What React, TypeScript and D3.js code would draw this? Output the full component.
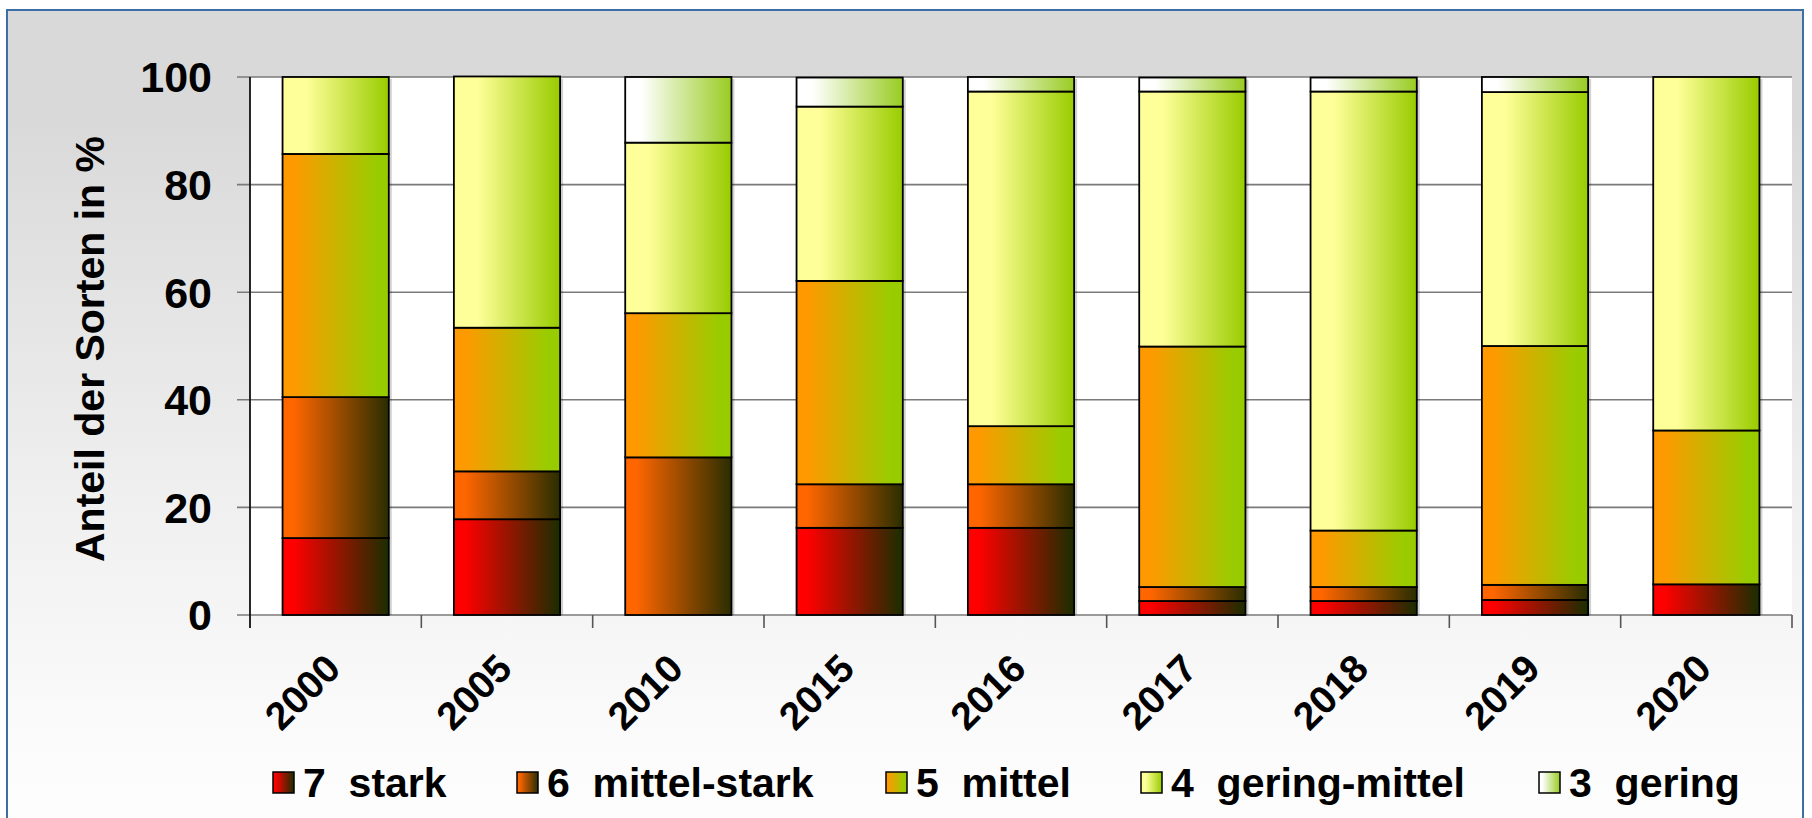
import React from 'react';
import * as d3 from 'd3';

const years = ['2000', '2005', '2010', '2015', '2016', '2017', '2018', '2019', '2020'];
const stark7 = [14.3, 17.8, 0, 16.2, 16.2, 2.6, 2.6, 2.8, 5.7];
const mittelStark6 = [26.2, 8.9, 29.3, 8.1, 8.1, 2.6, 2.6, 2.8, 0];
const mittel5 = [45.2, 26.7, 26.8, 37.8, 10.8, 44.7, 10.5, 44.4, 28.6];
const geringMittel4 = [14.3, 46.7, 31.7, 32.4, 62.2, 47.4, 81.6, 47.2, 65.7];
const gering3 = [0, 0, 12.2, 5.4, 2.7, 2.6, 2.6, 2.8, 0];
const seriesNames = ['7  stark', '6  mittel-stark', '5  mittel', '4  gering-mittel', '3  gering'];
const yTicks = [0, 20, 40, 60, 80, 100];

const seriesValues = [stark7, mittelStark6, mittel5, geringMittel4, gering3];
const gradStops: [number, string][][] = [
  [[0, '#ff0000'], [0.1, '#ff0000'], [1, '#1a2e00']],
  [[0, '#ff6600'], [0.1, '#ff6600'], [1, '#2a2e00']],
  [[0, '#ff9900'], [0.1, '#ff9900'], [0.88, '#99cc00'], [1, '#99cc00']],
  [[0, '#ffff99'], [0.22, '#ffff99'], [1, '#99cc00']],
  [[0, '#ffffff'], [0.15, '#ffffff'], [1, '#99cc22']],
];
const legendX = [273, 517, 886, 1141, 1539];

const W = 1812;
const H = 818;
const plot = { left: 250, right: 1792, top: 77, bottom: 615 };
const FONT = '"Liberation Sans", Arial, sans-serif';

export default function App() {
  const x = d3.scaleBand<string>().domain(years).range([plot.left, plot.right]).paddingInner(0.38).paddingOuter(0.19);
  const band = d3.scaleBand<string>().domain(years).range([plot.left, plot.right]);
  const y = d3.scaleLinear().domain([0, 100]).range([plot.bottom, plot.top]);

  const table = years.map((yr, i) => {
    const row: any = { year: yr };
    seriesValues.forEach((s, k) => (row['s' + k] = s[i]));
    return row;
  });
  const stack = d3.stack<any>().keys(seriesValues.map((_, k) => 's' + k))(table);

  return (
    <svg width={W} height={H} style={{ position: 'absolute', left: 0, top: 0 }} fontFamily={FONT}>
      <defs>
        <linearGradient id="bg" gradientUnits="userSpaceOnUse" x1="0" y1="0" x2="0" y2={H}>
          <stop offset="0" stopColor="#d9d9d9" />
          <stop offset="0.14" stopColor="#d9d9d9" />
          <stop offset="0.6" stopColor="#efefef" />
          <stop offset="0.9" stopColor="#fbfbfb" />
          <stop offset="1" stopColor="#fdfdfd" />
        </linearGradient>
        {gradStops.map((st, k) => (
          <linearGradient key={k} id={'g' + k} x1="0" y1="0" x2="1" y2="0">
            {st.map(([o, c], j) => (
              <stop key={j} offset={o} stopColor={c} />
            ))}
          </linearGradient>
        ))}
      </defs>
      <rect x={0} y={0} width={W} height={H} fill="#ffffff" />
      <rect x={7} y={10} width={1796} height={H} fill="url(#bg)" stroke="#3d6ea5" strokeWidth={2} />

      {/* plot area */}
      <rect x={plot.left} y={plot.top} width={plot.right - plot.left} height={plot.bottom - plot.top} fill="#ffffff" />
      {yTicks.map((t) => (
        <g key={t}>
          <line x1={plot.left - 13} x2={plot.right} y1={y(t)} y2={y(t)} stroke="#7a7a7a" strokeWidth={1.6} />
          <text x={212} y={y(t)} dy="0.36em" textAnchor="end" fontSize={43} fontWeight="bold" fill="#000">
            {t}
          </text>
        </g>
      ))}
      {/* category ticks */}
      {years.map((yr) => (
        <line key={yr} x1={(band(yr) as number) + band.bandwidth()} x2={(band(yr) as number) + band.bandwidth()} y1={plot.bottom} y2={plot.bottom + 13} stroke="#555" strokeWidth={1.6} />
      ))}
      <line x1={plot.left} x2={plot.left} y1={plot.top} y2={plot.bottom + 13} stroke="#111" strokeWidth={1.8} />

      {/* bars */}
      {years.map((yr, i) => {
        const top = y(d3.sum(seriesValues, (s) => s[i]));
        return (
          <rect key={'sh' + yr} x={(x(yr) as number) + 3} y={top + 2} width={x.bandwidth()} height={plot.bottom - top - 2} fill="#000" opacity={0.18} />
        );
      })}
      {stack.map((layer, k) =>
        layer.map((d, i) =>
          d[1] - d[0] > 0 ? (
            <rect
              key={k + '-' + i}
              x={x(years[i]) as number}
              y={y(d[1])}
              width={x.bandwidth()}
              height={y(d[0]) - y(d[1])}
              fill={`url(#g${k})`}
              stroke="#000"
              strokeWidth={1.8}
            />
          ) : null
        )
      )}

      {/* x labels */}
      {years.map((yr) => {
        const cx = (band(yr) as number) + band.bandwidth() / 2;
        return (
          <text key={yr} transform={`translate(${cx + 7},${671}) rotate(-45)`} textAnchor="end" fontSize={39} fontWeight="bold" fill="#000">
            {yr}
          </text>
        );
      })}

      {/* y title */}
      <text transform={`translate(104,${349}) rotate(-90)`} textAnchor="middle" fontSize={41} fontWeight="bold" fill="#000">
        Anteil der Sorten in %
      </text>

      {/* legend */}
      {seriesNames.map((nm, k) => (
        <g key={nm}>
          <rect x={legendX[k]} y={772} width={21} height={21} fill={`url(#g${k})`} stroke="#000" strokeWidth={1.5} />
          <text x={legendX[k] + 30} y={797} fontSize={41} fontWeight="bold" fill="#000" style={{ whiteSpace: 'pre' }}>
            {nm}
          </text>
        </g>
      ))}
    </svg>
  );
}
